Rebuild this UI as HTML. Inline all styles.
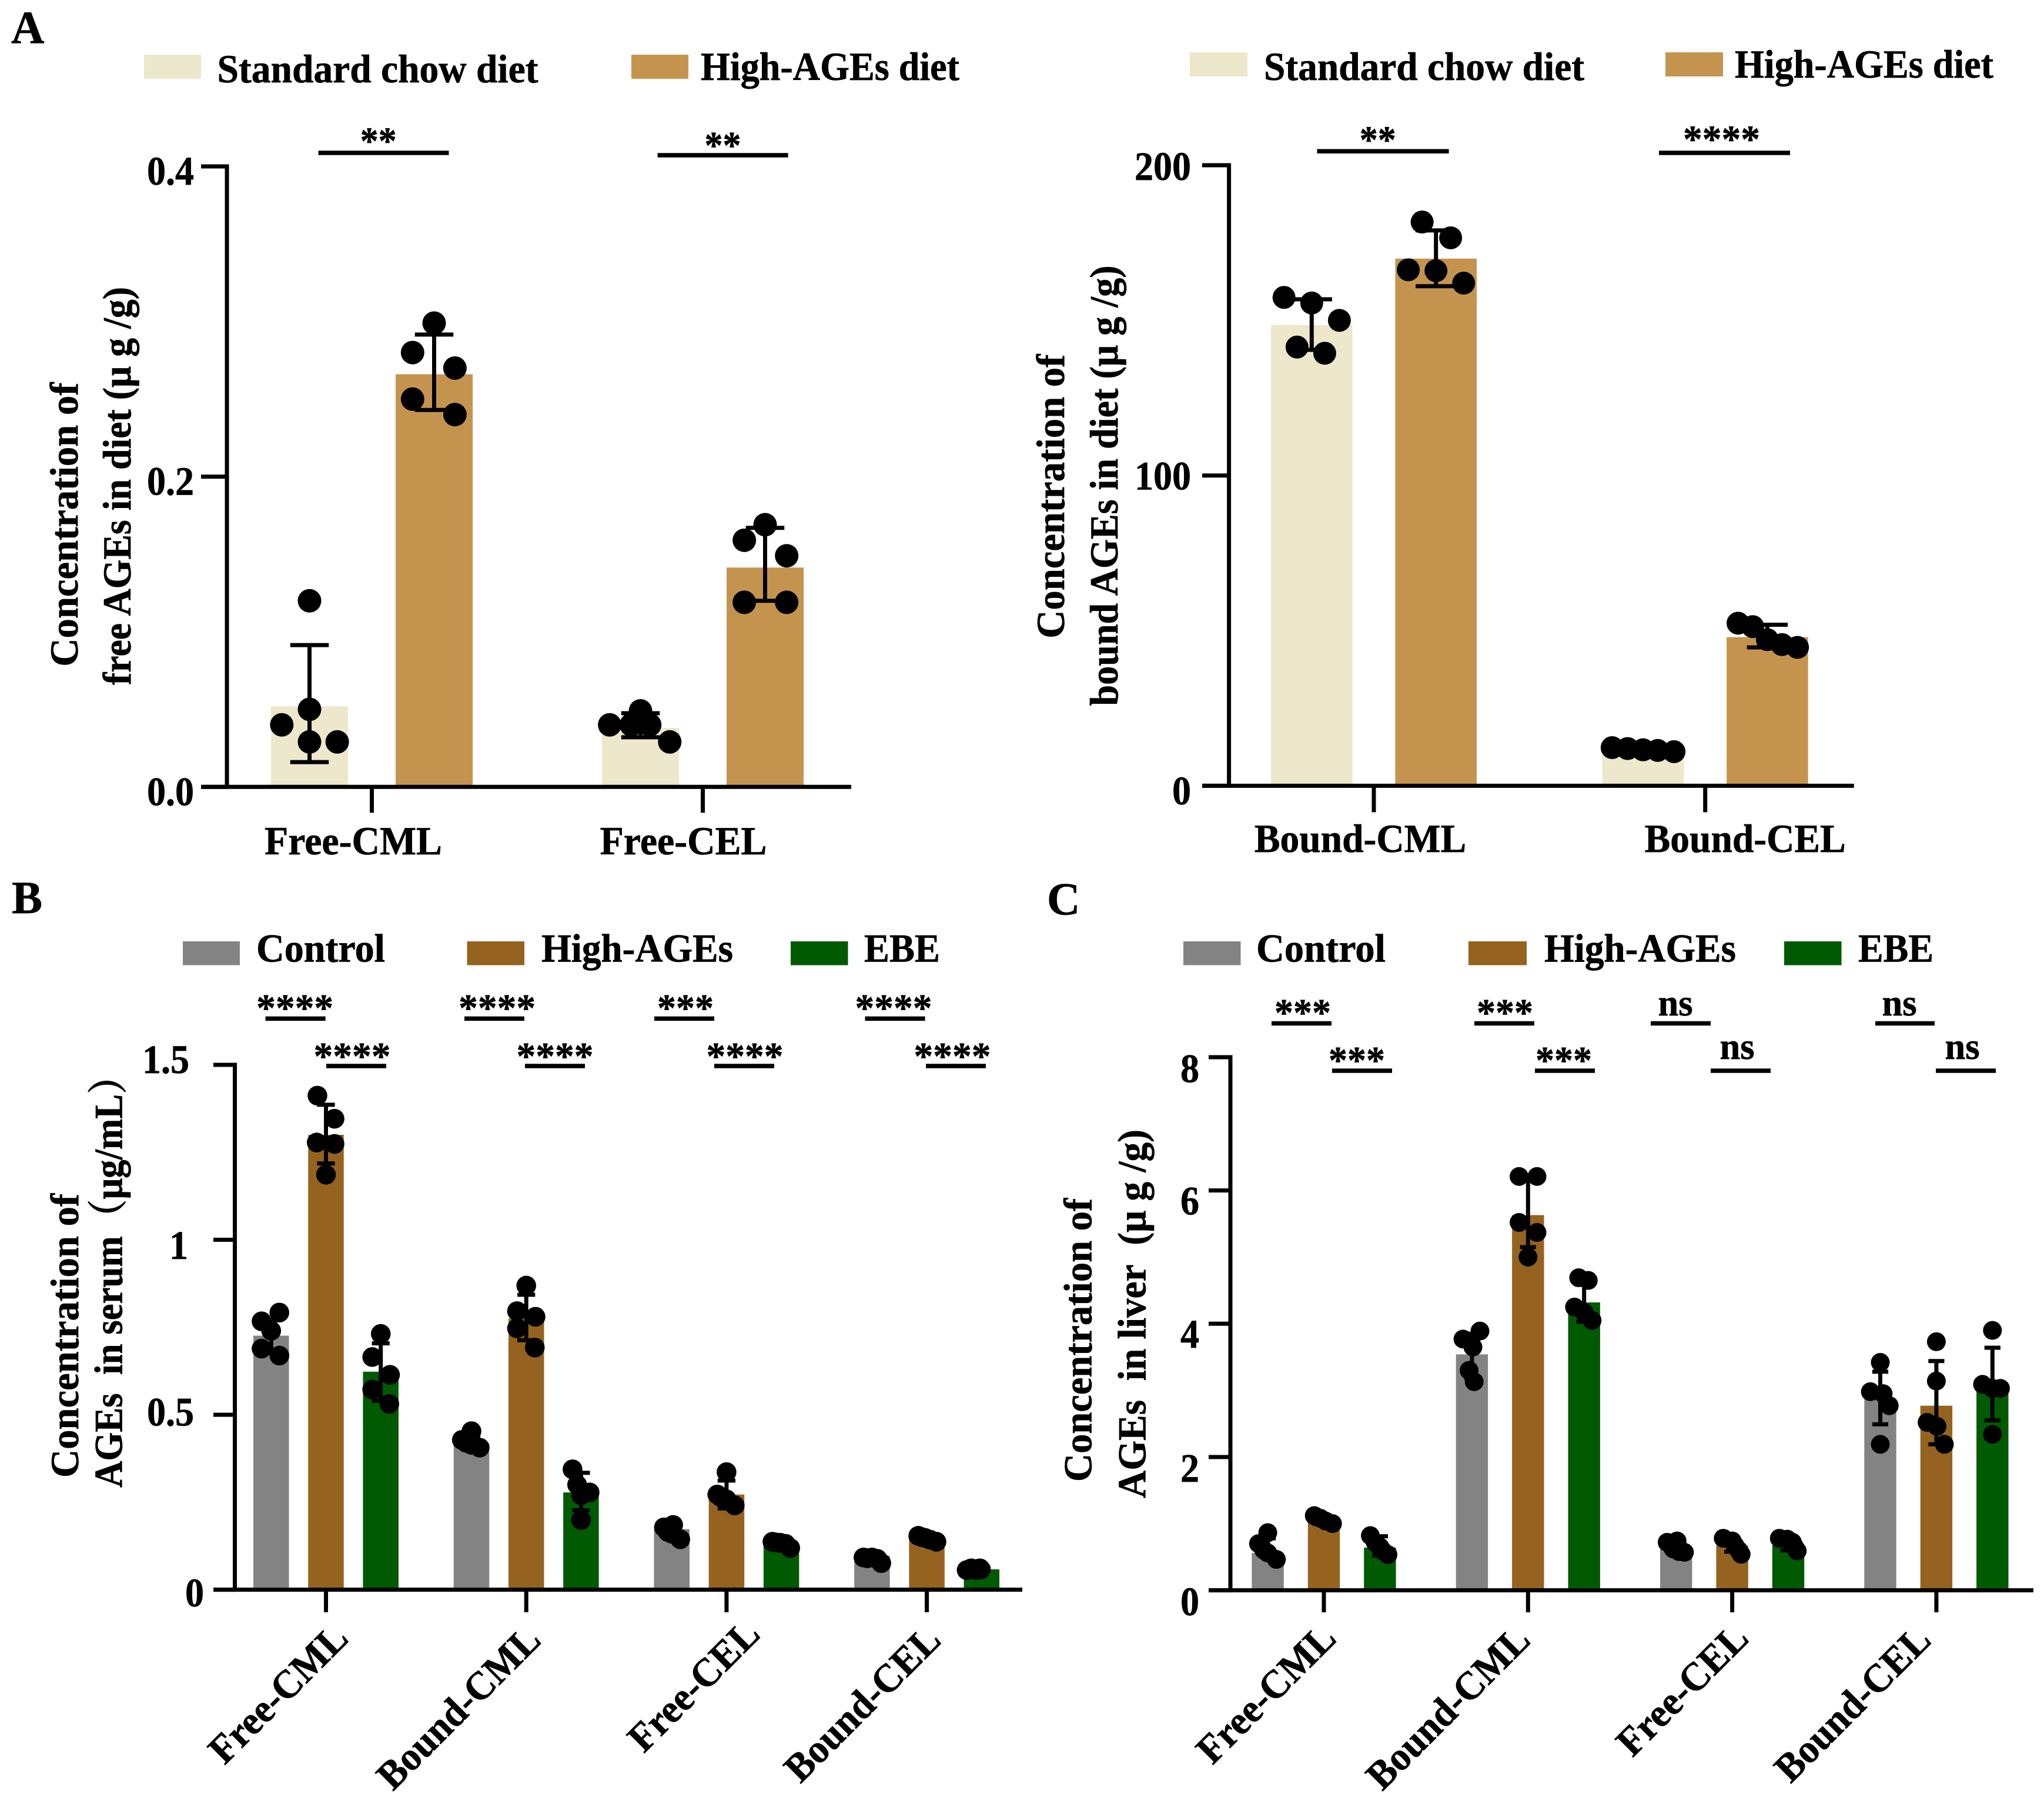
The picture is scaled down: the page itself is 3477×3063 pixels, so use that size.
<!DOCTYPE html>
<html lang="en">
<head>
<meta charset="utf-8">
<title>Concentration of AGEs in diet, serum and liver</title>
<style>
html,body{margin:0;padding:0;background:#fff;}
svg{display:block;}
text{font-family:"Liberation Serif","Noto Serif CJK SC",serif;font-weight:bold;fill:#000;stroke:#000;stroke-width:0.7px;}
</style>
</head>
<body>
<svg id="figure" xmlns="http://www.w3.org/2000/svg" width="3477" height="3063" viewBox="0 0 3477 3063">
<rect x="0" y="0" width="3477" height="3063" fill="#fff"/>

<g>
<text x="19" y="73" font-size="78">A</text>
<text x="20" y="1553" font-size="78">B</text>
<text x="1781" y="1555" font-size="78">C</text>
</g>

<g font-size="68">
<rect x="245" y="93" width="97" height="41" fill="#ede7cb"/>
<text x="369.5" y="140" textLength="546" lengthAdjust="spacingAndGlyphs">Standard chow diet</text>
<rect x="1074" y="93" width="97" height="41" fill="#c4944f"/>
<text x="1192" y="136" textLength="440" lengthAdjust="spacingAndGlyphs">High-AGEs diet</text>
</g>
<g font-size="68">
<rect x="2024" y="89" width="98" height="41" fill="#ede7cb"/>
<text x="2150" y="136" textLength="545" lengthAdjust="spacingAndGlyphs">Standard chow diet</text>
<rect x="2833" y="89" width="98" height="41" fill="#c4944f"/>
<text x="2951" y="132" textLength="440" lengthAdjust="spacingAndGlyphs">High-AGEs diet</text>
</g>
<g font-size="68">
<rect x="311" y="1601" width="97" height="40.5" fill="#838383"/>
<text x="436" y="1635.5" textLength="219" lengthAdjust="spacingAndGlyphs">Control</text>
<rect x="794.5" y="1601" width="97.5" height="40.5" fill="#95631f"/>
<text x="921" y="1635.5" textLength="326" lengthAdjust="spacingAndGlyphs">High-AGEs</text>
<rect x="1345" y="1601" width="97.5" height="40.5" fill="#005a02"/>
<text x="1470" y="1635.5" textLength="129" lengthAdjust="spacingAndGlyphs">EBE</text>
</g>
<g font-size="68">
<rect x="2013" y="1601" width="97.5" height="40.5" fill="#838383"/>
<text x="2137" y="1635.5" textLength="220" lengthAdjust="spacingAndGlyphs">Control</text>
<rect x="2498" y="1601" width="99" height="40.5" fill="#95631f"/>
<text x="2627" y="1635.5" textLength="326" lengthAdjust="spacingAndGlyphs">High-AGEs</text>
<rect x="3035" y="1601" width="97.5" height="40.5" fill="#005a02"/>
<text x="3161" y="1635.5" textLength="128" lengthAdjust="spacingAndGlyphs">EBE</text>
</g>

<g font-size="68">
<text transform="translate(132,1133.6) rotate(-90)" textLength="483" lengthAdjust="spacingAndGlyphs">Concentration of</text>
<text transform="translate(222,1165) rotate(-90)" textLength="677" lengthAdjust="spacingAndGlyphs">free AGEs in diet (μ g /g)</text>
<text transform="translate(1810,1085.7) rotate(-90)" textLength="483" lengthAdjust="spacingAndGlyphs">Concentration of</text>
<text transform="translate(1901,1200.5) rotate(-90)" textLength="749" lengthAdjust="spacingAndGlyphs">bound AGEs in diet (μ g /g)</text>
<text transform="translate(133,2513) rotate(-90)" textLength="483" lengthAdjust="spacingAndGlyphs">Concentration of</text>
<text transform="translate(207.5,2530) rotate(-90)" textLength="732" lengthAdjust="spacingAndGlyphs">AGEs&#160;&#160;in serum（μg/mL）</text>
<text transform="translate(1856.5,2520) rotate(-90)" textLength="482" lengthAdjust="spacingAndGlyphs">Concentration of</text>
<text transform="translate(1948.6,2548) rotate(-90)" textLength="627" lengthAdjust="spacingAndGlyphs">AGEs&#160;&#160;in liver&#160;&#160;(μ g /g)</text>
</g>

<g id="panels"></g>

<g font-size="66" text-anchor="middle">
<line x1="541.5" y1="260" x2="763.5" y2="260" stroke="#000" stroke-width="7.5"/>
<text x="643.6" y="261.6" textLength="62" lengthAdjust="spacingAndGlyphs">**</text>
<line x1="1118.6" y1="264" x2="1340.6" y2="264" stroke="#000" stroke-width="7.5"/>
<text x="1229.5" y="269" textLength="62" lengthAdjust="spacingAndGlyphs">**</text>
</g>
<g font-size="66" text-anchor="middle">
<line x1="2240.5" y1="257.3" x2="2464.6" y2="257.3" stroke="#000" stroke-width="7.5"/>
<text x="2343.7" y="259.7" textLength="62" lengthAdjust="spacingAndGlyphs">**</text>
<line x1="2822" y1="260" x2="3045" y2="260" stroke="#000" stroke-width="7.5"/>
<text x="2928.5" y="258.7" textLength="131" lengthAdjust="spacingAndGlyphs">****</text>
</g>
<g font-size="66" text-anchor="middle">
<line x1="451.6" y1="1732.4" x2="553.7" y2="1732.4" stroke="#000" stroke-width="7.5"/>
<text x="501.6" y="1736" textLength="131" lengthAdjust="spacingAndGlyphs">****</text>
<line x1="790" y1="1732.4" x2="892" y2="1732.4" stroke="#000" stroke-width="7.5"/>
<text x="845.6" y="1736" textLength="131" lengthAdjust="spacingAndGlyphs">****</text>
<line x1="1113" y1="1732.4" x2="1215" y2="1732.4" stroke="#000" stroke-width="7.5"/>
<text x="1166" y="1736" textLength="96" lengthAdjust="spacingAndGlyphs">***</text>
<line x1="1471.5" y1="1732.4" x2="1573.6" y2="1732.4" stroke="#000" stroke-width="7.5"/>
<text x="1520" y="1736" textLength="131" lengthAdjust="spacingAndGlyphs">****</text>
<line x1="555" y1="1813" x2="657" y2="1813" stroke="#000" stroke-width="7.5"/>
<text x="599" y="1818" textLength="131" lengthAdjust="spacingAndGlyphs">****</text>
<line x1="893" y1="1813" x2="995" y2="1813" stroke="#000" stroke-width="7.5"/>
<text x="944" y="1818" textLength="131" lengthAdjust="spacingAndGlyphs">****</text>
<line x1="1215" y1="1813" x2="1317" y2="1813" stroke="#000" stroke-width="7.5"/>
<text x="1267" y="1818" textLength="131" lengthAdjust="spacingAndGlyphs">****</text>
<line x1="1575" y1="1813" x2="1677" y2="1813" stroke="#000" stroke-width="7.5"/>
<text x="1620" y="1818" textLength="131" lengthAdjust="spacingAndGlyphs">****</text>
</g>
<g font-size="66" text-anchor="middle">
<line x1="2163" y1="1740.5" x2="2265" y2="1740.5" stroke="#000" stroke-width="7.5"/>
<text x="2216" y="1744" textLength="96" lengthAdjust="spacingAndGlyphs">***</text>
<line x1="2508" y1="1740.5" x2="2610" y2="1740.5" stroke="#000" stroke-width="7.5"/>
<text x="2560" y="1744" textLength="96" lengthAdjust="spacingAndGlyphs">***</text>
<line x1="2808" y1="1740.5" x2="2910" y2="1740.5" stroke="#000" stroke-width="7.5"/>
<text x="2850" y="1727" font-size="64" textLength="59" lengthAdjust="spacingAndGlyphs">ns</text>
<line x1="3190" y1="1740.5" x2="3291" y2="1740.5" stroke="#000" stroke-width="7.5"/>
<text x="3231" y="1727" font-size="64" textLength="59" lengthAdjust="spacingAndGlyphs">ns</text>
<line x1="2266" y1="1821" x2="2368" y2="1821" stroke="#000" stroke-width="7.5"/>
<text x="2308" y="1825" textLength="96" lengthAdjust="spacingAndGlyphs">***</text>
<line x1="2611" y1="1821" x2="2713" y2="1821" stroke="#000" stroke-width="7.5"/>
<text x="2660" y="1825" textLength="96" lengthAdjust="spacingAndGlyphs">***</text>
<line x1="2910" y1="1821" x2="3012" y2="1821" stroke="#000" stroke-width="7.5"/>
<text x="2955" y="1801" font-size="64" textLength="59" lengthAdjust="spacingAndGlyphs">ns</text>
<line x1="3293" y1="1821" x2="3395" y2="1821" stroke="#000" stroke-width="7.5"/>
<text x="3338" y="1801" font-size="64" textLength="59" lengthAdjust="spacingAndGlyphs">ns</text>
</g>
</svg>

<script>
// ---- Panel A left: free AGEs in diet ----
const freeDietCategories = ['Free-CML', 'Free-CEL'];
const freeDietTicks = [0, 0.2, 0.4];
const freeDietTickLabels = ['0.0', '0.2', '0.4'];
const freeDietChowMeans = [0.052, 0.038];
const freeDietChowErrHigh = [0.0914, 0.0475];
const freeDietChowErrLow = [0.016, 0.032];
const freeDietChowPoints = [[0.12, 0.05, 0.04, 0.029, 0.029], [0.049, 0.04, 0.04, 0.04, 0.029]];
const freeDietChowSwarm = [[0, 0, -0.36, 0, 0.36], [0, -0.4, -0.12, 0.12, 0.38]];
const freeDietHighMeans = [0.266, 0.1414];
const freeDietHighErrHigh = [0.2916, 0.167];
const freeDietHighErrLow = [0.243, 0.12];
const freeDietHighPoints = [[0.299, 0.28, 0.27, 0.25, 0.24], [0.169, 0.159, 0.149, 0.119, 0.119]];
const freeDietHighSwarm = [[0, -0.28, 0.27, -0.28, 0.27], [0, -0.27, 0.28, -0.27, 0.28]];

// ---- Panel A right: bound AGEs in diet ----
const boundDietCategories = ['Bound-CML', 'Bound-CEL'];
const boundDietTicks = [0, 100, 200];
const boundDietTickLabels = ['0', '100', '200'];
const boundDietChowMeans = [148.5, 11.2];
const boundDietChowErrHigh = [156.8, 12.2];
const boundDietChowErrLow = [140.5, 11];
const boundDietChowPoints = [[157.4, 155.6, 150, 141.4, 139.4], [12.3, 12, 11.6, 11.4, 11]];
const boundDietChowSwarm = [[-0.34, 0, 0.34, -0.18, 0.16], [-0.38, -0.19, 0, 0.18, 0.38]];
const boundDietHighMeans = [169.9, 47.9];
const boundDietHighErrHigh = [179, 51.9];
const boundDietHighErrLow = [161, 44.6];
const boundDietHighPoints = [[181.7, 176.6, 166.3, 166, 162], [52.4, 51.3, 47.1, 45.5, 44.6]];
const boundDietHighSwarm = [[-0.17, 0.18, -0.34, 0, 0.34], [-0.36, -0.18, 0, 0.18, 0.37]];

// ---- Panel B: serum ----
const serumCategories = ['Free-CML', 'Bound-CML', 'Free-CEL', 'Bound-CEL'];
const serumTicks = [0, 0.5, 1, 1.5];
const serumTickLabels = ['0', '0.5', '1', '1.5'];
const serumControlMeans = [0.726, 0.419, 0.173, 0.097];
const serumControlErrHigh = [0.77, 0.44, 0.19, 0.1];
const serumControlErrLow = [0.68, 0.405, 0.15, 0.08];
const serumControlPoints = [[0.792, 0.767, 0.74, 0.689, 0.669], [0.453, 0.428, 0.414, 0.406, 0.42], [0.185, 0.178, 0.165, 0.16, 0.144], [0.092, 0.092, 0.088, 0.076, 0.09]];
const serumControlSwarm = [[0.23, -0.27, 0, -0.27, 0.23], [0, -0.27, 0, 0.23, -0.15], [0.04, -0.22, -0.11, 0, 0.24], [-0.24, 0, 0.15, 0.26, -0.13]];
const serumHighMeans = [1.3, 0.775, 0.272, 0.144];
const serumHighErrHigh = [1.386, 0.843, 0.312, 0.155];
const serumHighErrLow = [1.218, 0.713, 0.232, 0.135];
const serumHighPoints = [[1.412, 1.346, 1.278, 1.274, 1.186], [0.869, 0.796, 0.78, 0.747, 0.692], [0.336, 0.272, 0.258, 0.241, 0.265], [0.154, 0.148, 0.143, 0.137, 0.15]];
const serumHighSwarm = [[-0.24, 0.24, -0.26, 0.24, 0], [0, -0.26, 0.26, -0.26, 0.24], [0, -0.26, 0, 0.23, -0.17], [-0.24, -0.05, 0.09, 0.27, -0.13]];
const serumEbeMeans = [0.623, 0.278, 0.131, 0.058];
const serumEbeErrHigh = [0.704, 0.334, 0.14, 0.062];
const serumEbeErrLow = [0.54, 0.227, 0.12, 0.054];
const serumEbePoints = [[0.731, 0.665, 0.614, 0.572, 0.531], [0.344, 0.3, 0.278, 0.27, 0.199], [0.137, 0.134, 0.131, 0.119, 0.135], [0.061, 0.061, 0.056, 0.056, 0.058]];
const serumEbeSwarm = [[0, -0.24, 0.26, -0.24, 0.24], [-0.24, -0.11, 0.24, 0, 0], [-0.25, -0.03, 0.12, 0.25, -0.15], [-0.29, -0.05, -0.42, -0.16, -0.02]];

// ---- Panel C: liver ----
const liverCategories = ['Free-CML', 'Bound-CML', 'Free-CEL', 'Bound-CEL'];
const liverTicks = [0, 2, 4, 6, 8];
const liverTickLabels = ['0', '2', '4', '6', '8'];
const liverControlMeans = [0.56, 3.54, 0.65, 2.88];
const liverControlErrHigh = [0.78, 3.85, 0.74, 3.28];
const liverControlErrLow = [0.5, 3.19, 0.58, 2.49];
const liverControlPoints = [[0.864, 0.7, 0.606, 0.56, 0.463], [3.89, 3.77, 3.65, 3.3, 3.13], [0.72, 0.74, 0.62, 0.58, 0.57], [3.42, 2.98, 2.95, 2.77, 2.19]];
const liverControlSwarm = [[0, -0.29, -0.13, 0, 0.27], [0.25, -0.28, 0.03, -0.09, 0.07], [-0.28, 0.03, -0.09, 0.09, 0.26], [0, -0.31, 0.09, 0.28, 0]];
const liverHighMeans = [1.05, 5.63, 0.67, 2.77];
const liverHighErrHigh = [1.12, 6.17, 0.76, 3.44];
const liverHighErrLow = [1.0, 5.15, 0.58, 2.19];
const liverHighPoints = [[1.12, 1.08, 1.04, 1.0, 1.1], [6.21, 6.21, 5.52, 5.37, 5.0], [0.78, 0.74, 0.67, 0.6, 0.54], [3.73, 3.14, 2.52, 2.46, 2.19]];
const liverHighSwarm = [[-0.3, -0.11, 0.05, 0.27, -0.23], [-0.28, 0.28, -0.28, 0.28, 0], [-0.28, 0, 0.09, 0.2, 0.28], [0, 0, -0.29, 0.02, 0.25]];
const liverEbeMeans = [0.64, 4.32, 0.68, 3.0];
const liverEbeErrHigh = [0.81, 4.66, 0.78, 3.64];
const liverEbeErrLow = [0.52, 4.03, 0.6, 2.55];
const liverEbePoints = [[0.82, 0.72, 0.65, 0.59, 0.535], [4.69, 4.65, 4.25, 4.17, 4.05], [0.78, 0.766, 0.72, 0.65, 0.59], [3.9, 3.09, 3.03, 3.03, 2.34]];
const liverEbeSwarm = [[-0.3, -0.15, 0, 0.09, 0.25], [-0.17, 0.13, -0.3, 0, 0.25], [-0.28, -0.03, 0.13, 0.2, 0.28], [0, -0.31, 0.25, 0, 0]];

const SVG_NS = 'http://www.w3.org/2000/svg';
const AXIS_WIDTH = 7;
const ERR_WIDTH = 7;
const LABEL_EM = 65.5;

function make(tag, attrs, parent) {
  const el = document.createElementNS(SVG_NS, tag);
  for (const k in attrs) el.setAttribute(k, attrs[k]);
  parent.appendChild(el);
  return el;
}

function numericLength(label) {
  let em = 0;
  for (const ch of label) em += ch === '.' ? 0.25 : 0.5;
  return em * 64;
}

const glyphEm = {F:.611,r:.444,e:.444,'-':.333,C:.722,M:.944,L:.667,E:.667,B:.667,o:.5,u:.556,n:.556,d:.556};
function labelLength(label) {
  let em = 0;
  for (const ch of label) em += glyphEm[ch];
  return em * LABEL_EM;
}

function drawPanel(cfg) {
  const root = document.getElementById('panels');
  const panel = make('g', {}, root);
  
  

  const yScale = v => cfg.y0 - v * (cfg.y0 - cfg.yTop) / cfg.ticks[cfg.ticks.length - 1];
  const groupX = c => cfg.firstTick + c * cfg.groupStep;
  const barX = (c, s) => groupX(c) + (s - (cfg.series.length - 1) / 2) * cfg.barStep;

  cfg.series.forEach((series, s) => {
    const seriesGroup = make('g', {}, panel);
    
    

    series.means.forEach((mean, c) => {
      const cx = barX(c, s);
      const bar = make('rect', {x: cx - cfg.barWidth / 2, y: yScale(mean), width: cfg.barWidth, height: cfg.y0 - yScale(mean), fill: series.color}, seriesGroup);
      
      

      const capHalf = cfg.barWidth * 0.25;
      const whisker = make('line', {x1: cx, x2: cx, y1: yScale(series.errHigh[c]), y2: yScale(series.errLow[c]), stroke: '#000', 'stroke-width': ERR_WIDTH}, seriesGroup);
      
      

      const capTop = make('line', {x1: cx - capHalf, x2: cx + capHalf, y1: yScale(series.errHigh[c]), y2: yScale(series.errHigh[c]), stroke: '#000', 'stroke-width': ERR_WIDTH}, seriesGroup);
      
      

      const capBottom = make('line', {x1: cx - capHalf, x2: cx + capHalf, y1: yScale(series.errLow[c]), y2: yScale(series.errLow[c]), stroke: '#000', 'stroke-width': ERR_WIDTH}, seriesGroup);
      
      

      series.points[c].forEach((value, p) => {
        const dot = make('circle', {cx: cx + series.swarm[c][p] * cfg.barWidth, cy: yScale(value), r: cfg.dotR, fill: '#000'}, seriesGroup);
        
        
      });
    });
  });

  const yAxis = make('line', {x1: cfg.axisX, x2: cfg.axisX, y1: cfg.yTop - AXIS_WIDTH / 2, y2: cfg.y0 + AXIS_WIDTH / 2, stroke: '#000', 'stroke-width': AXIS_WIDTH}, panel);
  
  

  const xAxis = make('line', {x1: cfg.xStart, x2: cfg.xEnd, y1: cfg.y0, y2: cfg.y0, stroke: '#000', 'stroke-width': AXIS_WIDTH}, panel);
  
  

  cfg.ticks.forEach((t, i) => {
    const y = yScale(t);
    const tick = make('line', {x1: cfg.xStart, x2: cfg.axisX, y1: y, y2: y, stroke: '#000', 'stroke-width': AXIS_WIDTH}, panel);
    
    

    const label = make('text', {x: cfg.tickLabelRight[i], y: y + cfg.tickLabelDy[i], 'text-anchor': 'end', 'font-size': 69, textLength: numericLength(cfg.tickLabels[i]), lengthAdjust: 'spacingAndGlyphs'}, panel);
    label.textContent = cfg.tickLabels[i];
    
    
  });

  cfg.categories.forEach((cat, c) => {
    const x = groupX(c);
    const tick = make('line', {x1: x, x2: x, y1: cfg.y0, y2: cfg.y0 + cfg.tickLen, stroke: '#000', 'stroke-width': AXIS_WIDTH}, panel);
    
    

    const attrs = {'font-size': 68, textLength: labelLength(cat), lengthAdjust: 'spacingAndGlyphs'};
    if (cfg.rotated) {
      attrs['text-anchor'] = 'end';
      attrs.transform = 'translate(' + (x + cfg.catDx[c]) + ',' + cfg.catY[c] + ') rotate(-45)';
    } else {
      attrs['text-anchor'] = 'middle';
      attrs.x = x + cfg.catDx[c];
      attrs.y = cfg.catY[c];
    }
    const label = make('text', attrs, panel);
    label.textContent = cat;
    
    
  });
}

drawPanel({
  name: 'chart-free-ages-diet', categories: freeDietCategories, ticks: freeDietTicks, tickLabels: freeDietTickLabels,
  y0: 1338.3, yTop: 283, axisX: 386, xStart: 342, xEnd: 1448,
  firstTick: 632.5, groupStep: 563, barStep: 212, barWidth: 131, dotR: 20, tickLen: 44,
  tickLabelRight: [330, 330, 330], tickLabelDy: [31, 31, 31],
  catDx: [-31.5, -33], catY: [1453, 1453], rotated: false,
  series: [
    {key: 'standard-chow', color: '#ede7cb', means: freeDietChowMeans, errHigh: freeDietChowErrHigh, errLow: freeDietChowErrLow, points: freeDietChowPoints, swarm: freeDietChowSwarm},
    {key: 'high-ages', color: '#c4944f', means: freeDietHighMeans, errHigh: freeDietHighErrHigh, errLow: freeDietHighErrLow, points: freeDietHighPoints, swarm: freeDietHighSwarm}
  ]
});

drawPanel({
  name: 'chart-bound-ages-diet', categories: boundDietCategories, ticks: boundDietTicks, tickLabels: boundDietTickLabels,
  y0: 1336.4, yTop: 281, axisX: 2090.6, xStart: 2045, xEnd: 3153.7,
  firstTick: 2337, groupStep: 563.7, barStep: 211.4, barWidth: 138.5, dotR: 19.5, tickLen: 45,
  tickLabelRight: [2026, 2026, 2026], tickLabelDy: [31.5, 24, 25],
  catDx: [-23, 68], catY: [1449, 1449], rotated: false,
  series: [
    {key: 'standard-chow', color: '#ede7cb', means: boundDietChowMeans, errHigh: boundDietChowErrHigh, errLow: boundDietChowErrLow, points: boundDietChowPoints, swarm: boundDietChowSwarm},
    {key: 'high-ages', color: '#c4944f', means: boundDietHighMeans, errHigh: boundDietHighErrHigh, errLow: boundDietHighErrLow, points: boundDietHighPoints, swarm: boundDietHighSwarm}
  ]
});

drawPanel({
  name: 'chart-ages-serum', categories: serumCategories, ticks: serumTicks, tickLabels: serumTickLabels,
  y0: 2703.6, yTop: 1811, axisX: 399.5, xStart: 363, xEnd: 1739,
  firstTick: 554.5, groupStep: 340.7, barStep: 93.2, barWidth: 60.5, dotR: 16.8, tickLen: 38.4,
  tickLabelRight: [347, 330, 320, 322], tickLabelDy: [28.3, 18.2, 32.3, 14.1],
  catDx: [41, 28, 60, 27], catY: [2789.5, 2792.5, 2782.4, 2792.5], rotated: true,
  series: [
    {key: 'control', color: '#838383', means: serumControlMeans, errHigh: serumControlErrHigh, errLow: serumControlErrLow, points: serumControlPoints, swarm: serumControlSwarm},
    {key: 'high-ages', color: '#95631f', means: serumHighMeans, errHigh: serumHighErrHigh, errLow: serumHighErrLow, points: serumHighPoints, swarm: serumHighSwarm},
    {key: 'ebe', color: '#005a02', means: serumEbeMeans, errHigh: serumEbeErrHigh, errLow: serumEbeErrLow, points: serumEbePoints, swarm: serumEbeSwarm}
  ]
});

drawPanel({
  name: 'chart-ages-liver', categories: liverCategories, ticks: liverTicks, tickLabels: liverTickLabels,
  y0: 2704.6, yTop: 1798, axisX: 2093, xStart: 2056, xEnd: 3459,
  firstTick: 2252, groupStep: 347.3, barStep: 95.4, barWidth: 54.4, dotR: 16, tickLen: 37.5,
  tickLabelRight: [2040, 2040, 2040, 2040, 2040], tickLabelDy: [42.4, 42, 40.5, 41, 42.4],
  catDx: [24, 7, 31, -6], catY: [2789.5, 2792.5, 2789.5, 2792.5], rotated: true,
  series: [
    {key: 'control', color: '#838383', means: liverControlMeans, errHigh: liverControlErrHigh, errLow: liverControlErrLow, points: liverControlPoints, swarm: liverControlSwarm},
    {key: 'high-ages', color: '#95631f', means: liverHighMeans, errHigh: liverHighErrHigh, errLow: liverHighErrLow, points: liverHighPoints, swarm: liverHighSwarm},
    {key: 'ebe', color: '#005a02', means: liverEbeMeans, errHigh: liverEbeErrHigh, errLow: liverEbeErrLow, points: liverEbePoints, swarm: liverEbeSwarm}
  ]
});
</script>
</body>
</html>
